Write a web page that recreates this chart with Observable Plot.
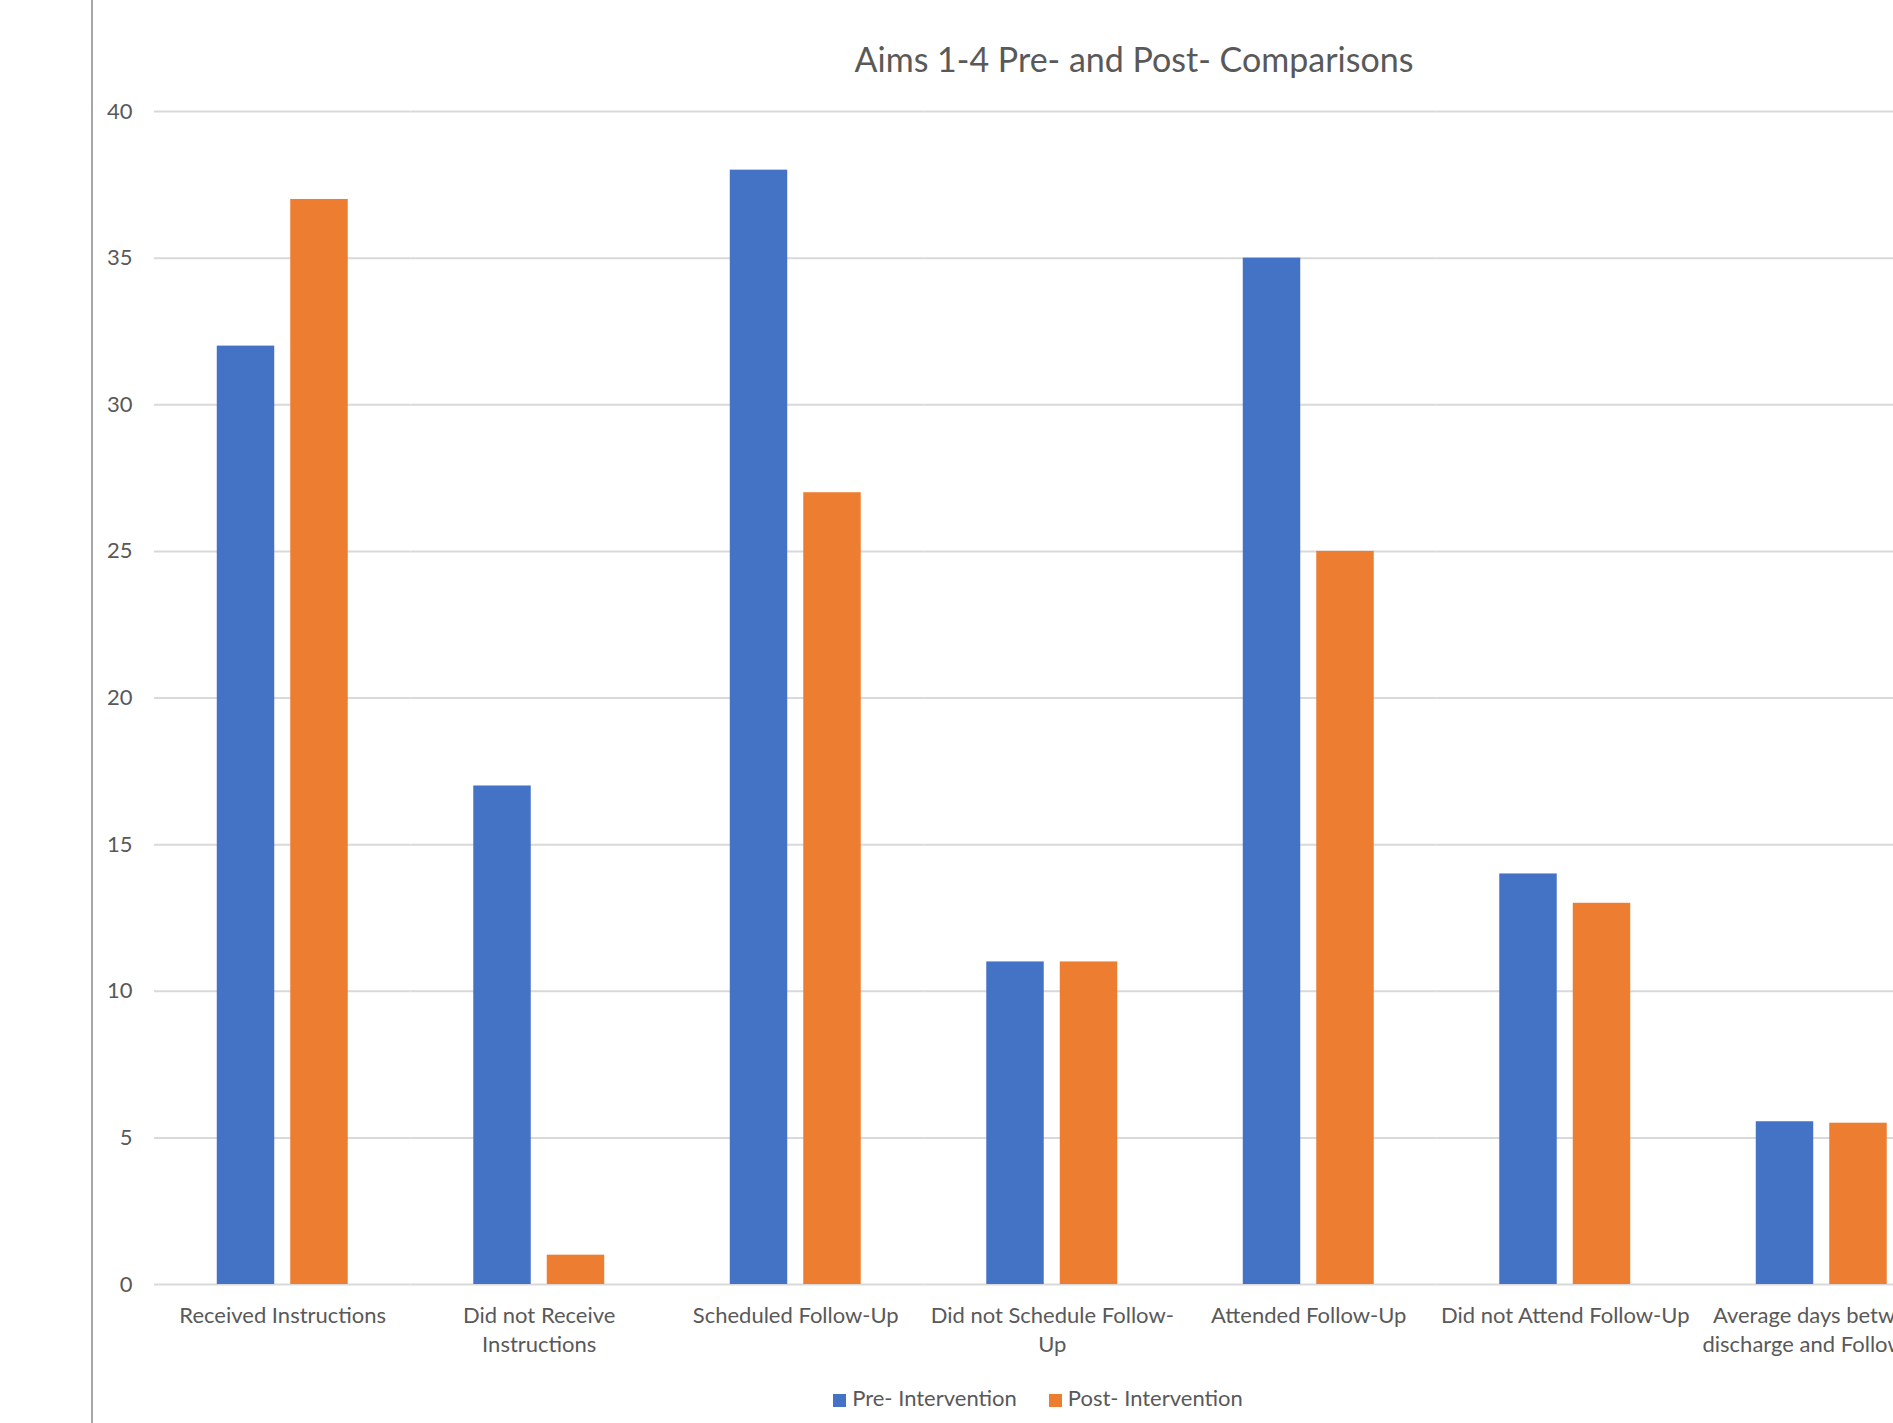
<!DOCTYPE html>
<html>
<head>
<meta charset="utf-8">
<script src="https://cdn.jsdelivr.net/npm/d3@7"></script>
<script src="https://cdn.jsdelivr.net/npm/@observablehq/plot@0.6"></script>
<style>
  html, body { margin: 0; padding: 0; background: #ffffff; overflow: hidden; }
  body { width: 1893px; height: 1423px; position: relative; font-family: Lato, "Open Sans", sans-serif; color: #595959; }
  #frame { position: absolute; left: 91px; top: 0; width: 2082px; height: 1423px; border-left: 2px solid #a6a6a6; }
  #title { position: absolute; left: 0; top: 42px; width: 2082px; text-align: center; font-size: 34px; line-height: 1; white-space: nowrap; }
  #chart { position: absolute; left: 0; top: 80px; }
  #legend { position: absolute; left: 0; top: 1387px; width: 1890px; text-align: center; font-size: 22px; line-height: 1; white-space: nowrap; }
  .item { display: inline-block; margin: 0 16px; }
  .swatch { display: inline-block; width: 13px; height: 13px; margin-right: 6px; vertical-align: -1px; }
</style>
</head>
<body>
<div id="frame">
  <div id="title"></div>
  <div id="chart"></div>
  <div id="legend"></div>
</div>
<script>
const titleText = "Aims 1-4 Pre- and Post- Comparisons";
const categories = [
  "Received Instructions",
  "Did not Receive Instructions",
  "Scheduled Follow-Up",
  "Did not Schedule Follow-Up",
  "Attended Follow-Up",
  "Did not Attend Follow-Up",
  "Average days between discharge and Follow-Up"
];
const tickLabels = [
  "Received Instructions",
  "Did not Receive\nInstructions",
  "Scheduled Follow-Up",
  "Did not Schedule Follow-\nUp",
  "Attended Follow-Up",
  "Did not Attend Follow-Up",
  "Average days between\ndischarge and Follow-Up"
];
const series = ["Pre- Intervention", "Post- Intervention"];
const preValues = [32, 17, 38, 11, 35, 14, 5.55];
const postValues = [37, 1, 27, 11, 25, 13, 5.5];
const colors = ["#4472C4", "#ED7D31"];
const yTicks = [0, 5, 10, 15, 20, 25, 30, 35, 40];

const table = [];
categories.forEach((c, i) => {
  table.push({category: c, series: series[0], value: preValues[i]});
  table.push({category: c, series: series[1], value: postValues[i]});
});

document.getElementById("title").textContent = titleText;

const chart = Plot.plot({
  width: 2080,
  height: 1294,
  marginLeft: 61,
  marginRight: 223.5,
  marginTop: 31,
  marginBottom: 90,
  style: {fontFamily: "Lato, 'Open Sans', sans-serif", fontSize: "22px", color: "#595959", background: "transparent", overflow: "visible"},
  fx: {domain: categories, paddingInner: 0, paddingOuter: 0, round: false, axis: null, label: null},
  x: {domain: series, paddingInner: 0.218, paddingOuter: 0.854, round: false, axis: null, label: null},
  y: {domain: [0, 40], axis: null, label: null},
  color: {domain: series, range: colors},
  marks: [
    Plot.gridY(yTicks, {stroke: "#d9d9d9", strokeOpacity: 1, strokeWidth: 2}),
    Plot.barY(table, {fx: "category", x: "series", y: "value", fill: "series"}),
    Plot.axisY(yTicks, {tickSize: 0, tickPadding: 22, fontSize: 22, fill: "#595959", label: null}),
    Plot.axisFx({anchor: "bottom", tickSize: 0, tickPadding: 18, fontSize: 22, fill: "#595959", lineHeight: 1.32, label: null,
      tickFormat: c => tickLabels[categories.indexOf(c)]})
  ]
});
document.getElementById("chart").appendChild(chart);

const legend = document.getElementById("legend");
series.forEach((s, i) => {
  const item = document.createElement("span");
  item.className = "item";
  const sw = document.createElement("span");
  sw.className = "swatch";
  sw.style.background = colors[i];
  item.appendChild(sw);
  item.appendChild(document.createTextNode(s));
  legend.appendChild(item);
});
</script>
</body>
</html>
